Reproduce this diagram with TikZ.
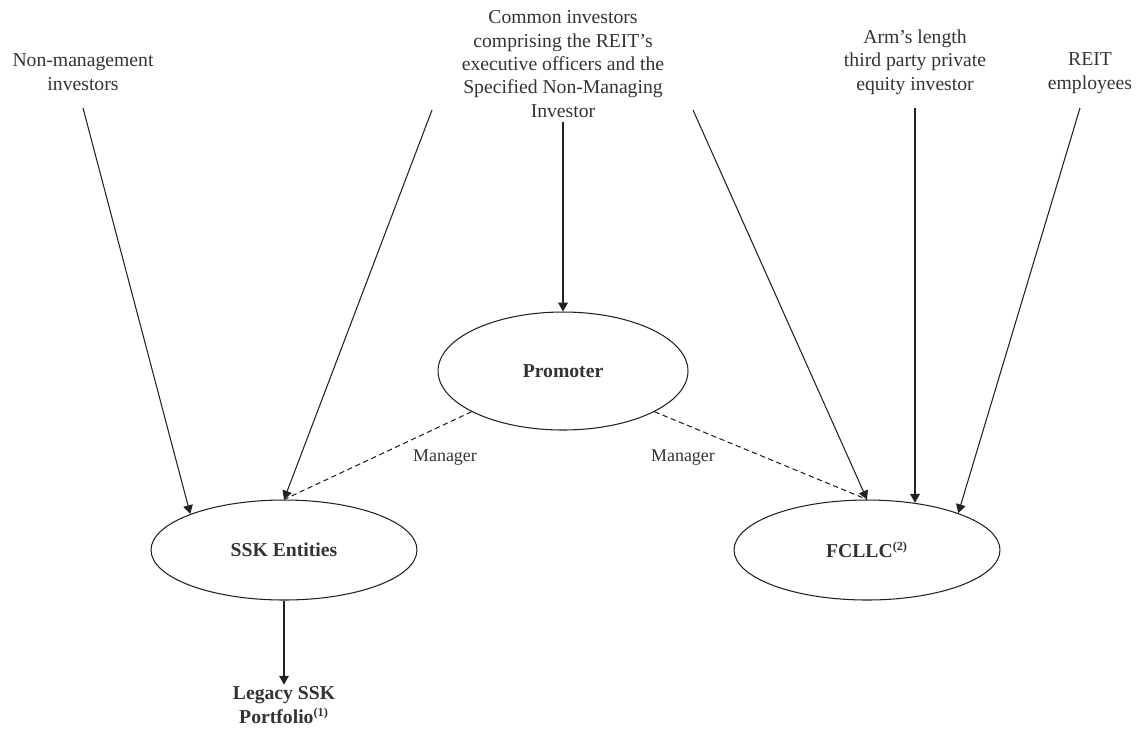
\documentclass[tikz,border=0pt]{standalone}
\usepackage{fontspec}
\setmainfont{Liberation Serif}
\usepackage{tikz}
\usetikzlibrary{arrows.meta,positioning,shapes.geometric}
\definecolor{reittext}{HTML}{333333}
\definecolor{reitline}{HTML}{222222}
\tikzset{
  party/.style={align=center, text=reittext, inner sep=1pt, font=\fontsize{11.2}{13.3}\selectfont},
  entity/.style={ellipse, draw=reitline, line width=0.6pt, text=reittext, inner sep=0pt, font=\fontsize{11.2}{13.3}\selectfont\bfseries},
  holding/.style={-{Triangle[length=5pt,width=5.5pt]}, line width=0.6pt, draw=reitline},
  manages/.style={dashed, line width=0.6pt, draw=reitline, dash pattern=on 3pt off 2pt},
  tag/.style={text=reittext, font=\fontsize{10.2}{12}\selectfont}
}

\begin{document}
\begin{tikzpicture}[x=0.02cm, y=-0.02cm]
  \useasboundingbox (0,0) rectangle (1138,728);
  % investors on top
  \node[party] (nonmgmt) at (83,72) {Non-management\\investors};
  \node[party] (common) at (563,64) {Common investors\\comprising the REIT’s\\executive officers and the\\Specified Non-Managing\\Investor};
  \node[party] (armslength) at (915,62) {Arm’s length\\third party private\\equity investor};
  \node[party] (employees) at (1090,73) {REIT\\employees};
  % entities
  \node[entity, minimum width=5cm, minimum height=2.36cm] (promoter) at (563,371) {Promoter};
  \node[entity, minimum width=5.32cm, minimum height=2cm] (ssk) at (284,550) {SSK Entities};
  \node[entity, minimum width=5.32cm, minimum height=2cm] (fcllc) at (867,550) {FCLLC\textsuperscript{\scriptsize(2)}};
  \node[party, font=\fontsize{11.2}{13.3}\selectfont\bfseries] (legacy) at (284,705) {Legacy SSK\\Portfolio\textsuperscript{\scriptsize(1)}};
  % where the arrows leave the texts
  \coordinate (nonmgmt-out) at (83,108);
  \coordinate (common-left) at (432,110);
  \coordinate (common-mid) at (563,122);
  \coordinate (common-right) at (693,110);
  \coordinate (armslength-out) at (915,108);
  \coordinate (employees-out) at (1080,108);

  \draw[holding] (nonmgmt-out) -- (ssk.159);
  \draw[holding] (common-left) -- (ssk.north);
  \draw[holding] (common-mid) -- (promoter.north);
  \draw[holding] (common-right) -- (fcllc.north);
  \draw[holding] (armslength-out) -- (armslength-out |- fcllc.45);
  \draw[holding] (employees-out) -- (fcllc.22);
  \draw[holding] (ssk.south) -- (legacy.north);

  \draw[manages] (promoter.204) -- (ssk.north);
  \draw[manages] (promoter.-24) -- (fcllc.north);
  \node[tag] (mgr-left) at (445,458) {Manager};
  \node[tag] (mgr-right) at (683,458) {Manager};
\end{tikzpicture}
\end{document}
